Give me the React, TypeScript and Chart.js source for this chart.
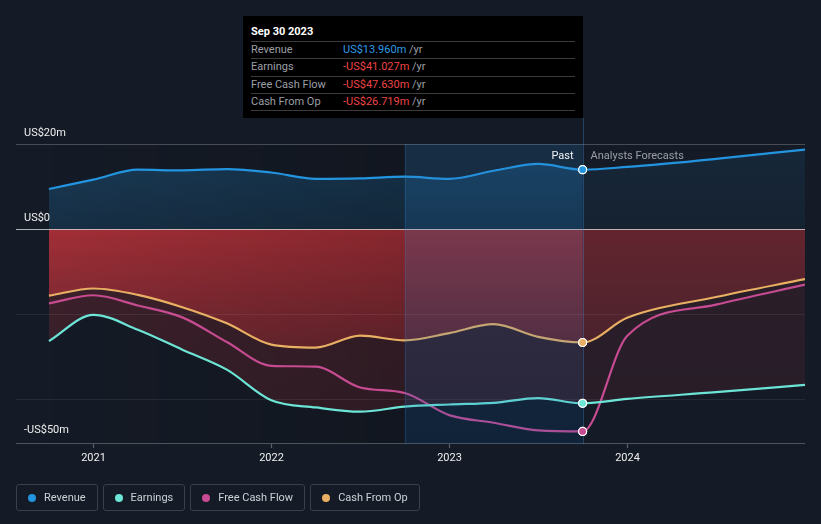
import React, { useEffect, useRef } from 'react';
import { Chart, registerables } from 'chart.js';

Chart.register(...registerables);

// ---- data (values in US$ millions, x in fractional years) ----
const quarters = [2020.75, 2021.0, 2021.25, 2021.5, 2021.75, 2022.0, 2022.25, 2022.5, 2022.75, 2023.0, 2023.25, 2023.5, 2023.75, 2024.0, 2024.5, 2025.0];
const revenue = [9.4, 11.6, 13.95, 13.8, 14.1, 13.3, 11.8, 11.9, 12.3, 11.8, 13.7, 15.3, 13.96, 14.6, 16.5, 18.7];
const earnings = [-26.4, -20.2, -23.7, -28.4, -33.1, -40.3, -42.0, -43.0, -41.8, -41.3, -40.9, -39.8, -41.027, -40.0, -38.4, -36.7];
const freeCashFlow = [-17.5, -15.6, -18.0, -20.8, -26.6, -32.2, -32.4, -37.3, -38.6, -43.8, -45.6, -47.4, -47.63, -25.2, -17.8, -13.1];
const cashFromOp = [-15.7, -14.0, -15.5, -18.4, -22.2, -27.2, -27.9, -25.1, -26.2, -24.5, -22.4, -25.4, -26.719, -20.9, -16.0, -11.8];

const xTickValues = [2021, 2022, 2023, 2024];
const xTickLabels = ['2021', '2022', '2023', '2024'];
const yLabelValues = [20, 0, -50];
const yLabelTexts = ['US$20m', 'US$0', '-US$50m'];
const gridValues = [-20, -40];

const PAST_END = 2023.75;
const HIGHLIGHT_START = 2022.75;
const PAST_IDX = quarters.indexOf(PAST_END);
const tooltipTitle = 'Sep 30 2023';

const seriesNames = ['Revenue', 'Earnings', 'Free Cash Flow', 'Cash From Op'];
const seriesColors = ['#2394df', '#6ce5d6', '#c74b91', '#e9b063'];

const W = 821;
const H = 524;
const FONT = 'Roboto, "Noto Sans", sans-serif';

function makeFill(chart: any, pastStops: [number, string][], foreStops: [number, string][]) {
  const a = chart.chartArea;
  if (!a || !chart.scales || !chart.scales.x) return 'rgba(0,0,0,0)';
  const xs = chart.scales.x;
  const ys = chart.scales.y;
  const px = xs.getPixelForValue(PAST_END);
  const c = document.createElement('canvas');
  c.width = chart.width;
  c.height = chart.height;
  const g = c.getContext('2d')!;
  const mk = (stops: [number, string][]) => {
    const gr = g.createLinearGradient(0, a.top, 0, a.bottom);
    stops.forEach(([v, col]) => {
      const t = Math.min(1, Math.max(0, (ys.getPixelForValue(v) - a.top) / (a.bottom - a.top)));
      gr.addColorStop(t, col);
    });
    return gr;
  };
  g.fillStyle = mk(pastStops);
  g.fillRect(0, 0, px, c.height);
  g.fillStyle = mk(foreStops);
  g.fillRect(px, 0, c.width - px, c.height);
  return chart.ctx.createPattern(c, 'no-repeat');
}

const decorPlugin = {
  id: 'decor',
  beforeDatasetsDraw(chart: any) {
    const { ctx, chartArea: a, scales } = chart;
    const x = scales.x;
    ctx.save();
    // subtle darkening across the past period
    const x0 = x.getPixelForValue(quarters[0]);
    const xh = x.getPixelForValue(HIGHLIGHT_START);
    const xp = x.getPixelForValue(PAST_END);
    const g = ctx.createLinearGradient(x0, 0, xh, 0);
    g.addColorStop(0, 'rgba(0,0,0,0)');
    g.addColorStop(1, 'rgba(0,0,0,0.16)');
    ctx.fillStyle = g;
    ctx.fillRect(x0, a.top, xh - x0, a.bottom - a.top);
    ctx.fillStyle = 'rgba(0,0,0,0.12)';
    ctx.fillRect(xh, a.top, xp - xh, a.bottom - a.top);
    ctx.restore();
  },
  afterDatasetsDraw(chart: any) {
    const { ctx, chartArea: a, scales } = chart;
    const x = scales.x;
    const y = scales.y;
    ctx.save();
    // faint gridlines
    ctx.lineWidth = 1;
    ctx.strokeStyle = 'rgba(255,255,255,0.07)';
    gridValues.forEach((v) => {
      const py = Math.round(y.getPixelForValue(v)) + 0.5;
      ctx.beginPath();
      ctx.moveTo(a.left, py);
      ctx.lineTo(a.right, py);
      ctx.stroke();
    });
    // top gridline
    ctx.strokeStyle = 'rgba(255,255,255,0.22)';
    const pTop = Math.round(y.getPixelForValue(20)) + 0.5;
    ctx.beginPath();
    ctx.moveTo(a.left, pTop);
    ctx.lineTo(a.right, pTop);
    ctx.stroke();
    // bottom axis line
    ctx.strokeStyle = 'rgba(255,255,255,0.25)';
    const pb = Math.round(a.bottom) - 0.5;
    ctx.beginPath();
    ctx.moveTo(a.left, pb);
    ctx.lineTo(a.right, pb);
    ctx.stroke();
    // zero line
    ctx.strokeStyle = 'rgba(225,225,225,0.75)';
    const p0 = Math.round(y.getPixelForValue(0)) + 0.5;
    ctx.beginPath();
    ctx.moveTo(a.left, p0);
    ctx.lineTo(a.right, p0);
    ctx.stroke();

    // highlight overlay (last 12 months of history)
    const xh = x.getPixelForValue(HIGHLIGHT_START);
    const xp = x.getPixelForValue(PAST_END);
    const og = ctx.createLinearGradient(0, a.top, 0, a.bottom);
    og.addColorStop(0, 'rgba(45,135,210,0.2)');
    og.addColorStop(1, 'rgba(10,100,180,0.16)');
    ctx.fillStyle = og;
    ctx.fillRect(xh, a.top, xp - xh, a.bottom - a.top);
    ctx.strokeStyle = 'rgba(60,130,200,0.22)';
    ctx.beginPath();
    ctx.moveTo(Math.round(xh) + 0.5, a.top);
    ctx.lineTo(Math.round(xh) + 0.5, a.bottom);
    ctx.stroke();
    ctx.strokeStyle = 'rgba(60,130,200,0.4)';
    ctx.beginPath();
    ctx.moveTo(Math.round(xp) + 0.5, 118);
    ctx.lineTo(Math.round(xp) + 0.5, a.bottom);
    ctx.stroke();

    // redraw end-of-history points on top of the overlay
    chart.data.datasets.forEach((_: any, i: number) => {
      const meta = chart.getDatasetMeta(i);
      const el = meta.data[PAST_IDX];
      if (el) el.draw(ctx, a);
    });

    // Past / Analysts Forecasts
    ctx.font = `11px ${FONT}`;
    ctx.textBaseline = 'middle';
    ctx.textAlign = 'right';
    ctx.fillStyle = '#f2f2f2';
    ctx.fillText('Past', xp - 9, 156);
    ctx.textAlign = 'left';
    ctx.fillStyle = '#9a9ea6';
    ctx.fillText('Analysts Forecasts', xp + 8, 156);

    // y labels
    ctx.fillStyle = '#eeeeee';
    ctx.textAlign = 'left';
    yLabelValues.forEach((v, i) => {
      ctx.fillText(yLabelTexts[i], 24, y.getPixelForValue(v) - 11);
    });

    // x ticks
    ctx.strokeStyle = 'rgba(255,255,255,0.3)';
    ctx.textAlign = 'center';
    ctx.fillStyle = '#eeeeee';
    xTickValues.forEach((v, i) => {
      const px = Math.round(x.getPixelForValue(v)) + 0.5;
      ctx.beginPath();
      ctx.moveTo(px, a.bottom);
      ctx.lineTo(px, a.bottom + 4);
      ctx.stroke();
      ctx.fillText(xTickLabels[i], px, 458);
    });
    ctx.restore();
  },
};

function fmt(v: number) {
  const s = `US$${Math.abs(v).toFixed(3)}m`;
  return v < 0 ? `-${s}` : s;
}

export default function App() {
  const ref = useRef<HTMLCanvasElement | null>(null);

  useEffect(() => {
    const canvas = ref.current;
    if (!canvas) return;
    const pts = (arr: number[]) => quarters.map((q, i) => ({ x: q, y: arr[i] }));
    const base = (i: number) => ({
      label: seriesNames[i],
      borderColor: seriesColors[i],
      borderWidth: 2.2,
      cubicInterpolationMode: 'monotone' as const,
      pointRadius: (c: any) => (c.dataIndex === PAST_IDX ? 4 : 0),
      pointHoverRadius: 0,
      pointBackgroundColor: seriesColors[i],
      pointBorderColor: '#ffffff',
      pointBorderWidth: 1.2,
    });
    const chart = new Chart(canvas, {
      type: 'line',
      data: {
        datasets: [
          {
            ...base(0),
            data: pts(revenue),
            fill: 'origin',
            backgroundColor: (c: any) =>
              makeFill(c.chart, [[20, 'rgba(35,148,223,0.28)'], [0, 'rgba(35,148,223,0.16)']], [[20, 'rgba(35,148,223,0.11)'], [0, 'rgba(35,148,223,0.06)']]),
          },
          {
            ...base(1),
            data: pts(earnings),
            fill: 'origin',
            backgroundColor: (c: any) =>
              makeFill(c.chart, [[0, 'rgba(225,55,62,0.2)'], [-50.6, 'rgba(225,55,62,0.16)']], [[0, 'rgba(225,55,62,0.11)'], [-50.6, 'rgba(225,55,62,0.09)']]),
          },
          {
            ...base(2),
            data: pts(freeCashFlow),
            fill: false,
          },
          {
            ...base(3),
            data: pts(cashFromOp),
            fill: 'origin',
            backgroundColor: (c: any) =>
              makeFill(c.chart, [[0, 'rgba(225,55,62,0.62)'], [-50.6, 'rgba(225,55,62,0.04)']], [[0, 'rgba(225,55,62,0.31)'], [-50.6, 'rgba(225,55,62,0.08)']]),
          },
        ],
      },
      options: {
        responsive: false,
        animation: false,
        devicePixelRatio: 1,
        events: [],
        layout: { padding: { left: 16, right: 16, top: 144, bottom: 80 } },
        scales: {
          x: { type: 'linear', min: 2020.565, max: 2025.0, display: false },
          y: { type: 'linear', min: -50.6, max: 20, display: false },
        },
        plugins: {
          legend: { display: false },
          tooltip: { enabled: false },
          filler: { drawTime: 'beforeDatasetsDraw' },
        } as any,
      },
      plugins: [decorPlugin],
    });
    return () => chart.destroy();
  }, []);

  const tipValues = [revenue[PAST_IDX], earnings[PAST_IDX], freeCashFlow[PAST_IDX], cashFromOp[PAST_IDX]];
  const rowH = 17.4;

  return (
    <div style={{ position: 'fixed', left: 0, top: 0, width: W, height: H, background: '#151b26', overflow: 'hidden', fontFamily: FONT }}>
      <canvas ref={ref} width={W} height={H} style={{ position: 'absolute', left: 0, top: 0, width: W, height: H }} />
      <div style={{ position: 'absolute', left: 243, top: 16, width: 340, height: 102, background: '#000000' }}>
        <div style={{ position: 'absolute', left: 8, top: 8, height: 16, lineHeight: '16px', fontSize: 11, fontWeight: 'bold', color: '#ffffff' }}>{tooltipTitle}</div>
        {seriesNames.map((n, i) => (
          <div key={n} style={{ position: 'absolute', left: 8, width: 324, top: 25 + i * rowH, height: rowH, borderTop: '1px solid #3b3b3b', borderBottom: i === 3 ? '1px solid #3b3b3b' : 'none', boxSizing: 'border-box', fontSize: 11, lineHeight: `${rowH - 1}px` }}>
            <span style={{ position: 'absolute', left: 0, color: '#9b9fa6' }}>{n}</span>
            <span style={{ position: 'absolute', left: 92, whiteSpace: 'nowrap' }}>
              <span style={{ color: tipValues[i] < 0 ? '#ee4444' : '#2e9be6' }}>{fmt(tipValues[i])}</span>
              <span style={{ color: '#9b9fa6' }}> /yr</span>
            </span>
          </div>
        ))}
      </div>
      <div style={{ position: 'absolute', left: 16, top: 484, display: 'flex', gap: 5 }}>
        {seriesNames.map((n, i) => (
          <div key={n} style={{ height: 27, boxSizing: 'border-box', border: '1px solid #3a4049', borderRadius: 3, display: 'flex', alignItems: 'center', padding: '0 11px 0 11px', fontSize: 11, color: '#cdd1d6' }}>
            <span style={{ width: 8, height: 8, borderRadius: 4, background: seriesColors[i], marginRight: 8, display: 'inline-block' }} />
            <span>{n}</span>
          </div>
        ))}
      </div>
    </div>
  );
}
